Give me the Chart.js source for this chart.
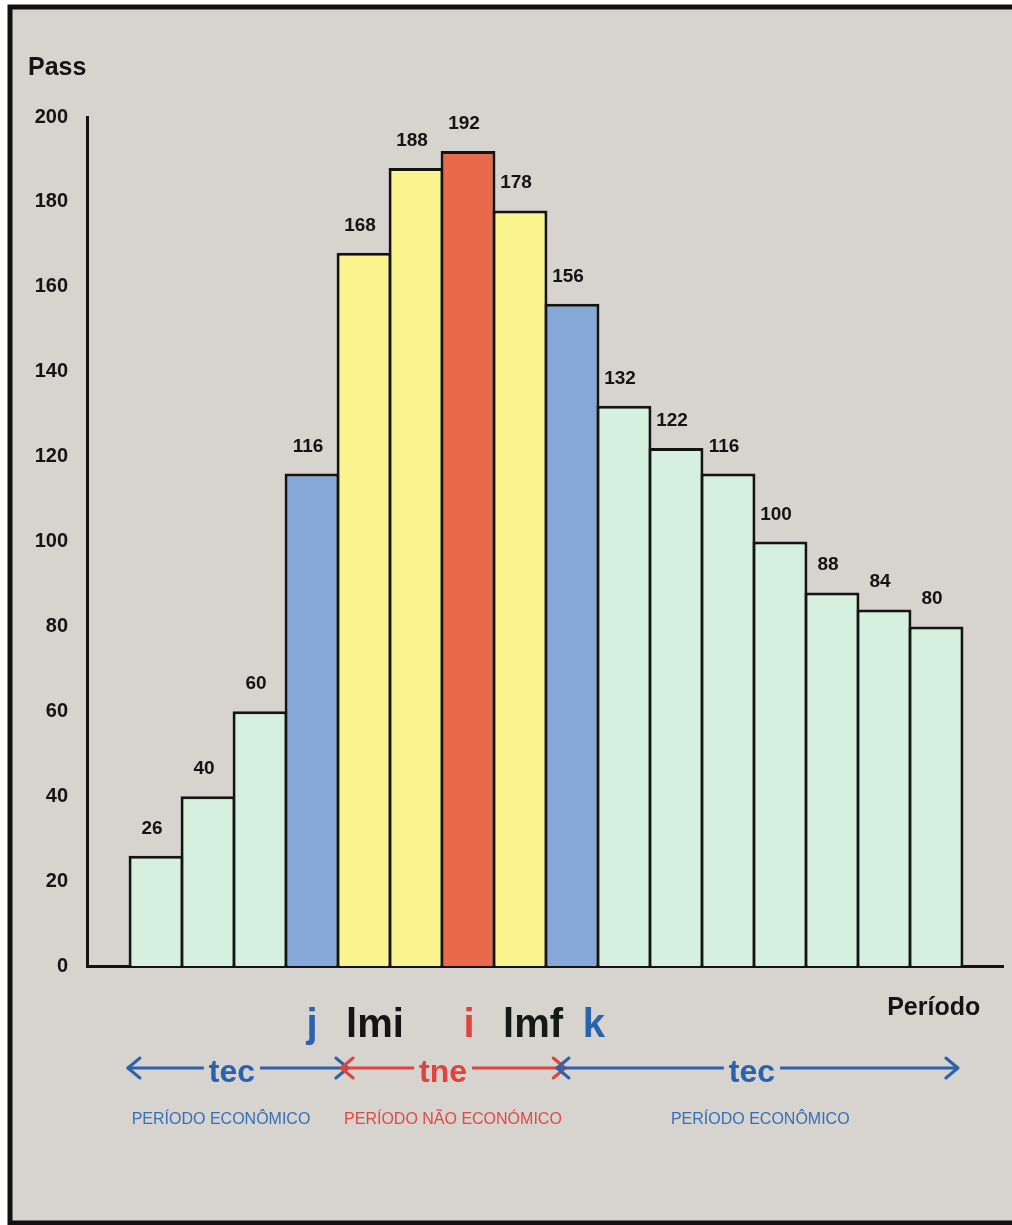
<!DOCTYPE html>
<html lang="pt">
<head>
<meta charset="utf-8">
<title>Pass por período</title>
<script src="https://cdn.jsdelivr.net/npm/chart.js@4/dist/chart.umd.min.js"></script>
<style>
  html, body { margin: 0; padding: 0; background: #ffffff; }
  canvas { display: block; }
</style>
</head>
<body>
<canvas id="chart" width="1012" height="1225"></canvas>
<script>
// Periods along the horizontal axis and the value reached in each one
const periods = [1, 2, 3, 4, 5, 6, 7, 8, 9, 10, 11, 12, 13, 14, 15, 16];
const passValues = [26, 40, 60, 116, 168, 188, 192, 178, 156, 132, 122, 116, 100, 88, 84, 80];
// Kind of each period: e = económico, b = limite (j / k), n = não económico, c = ponto crítico (i)
const periodKinds = ['e', 'e', 'e', 'b', 'n', 'n', 'c', 'n', 'b', 'e', 'e', 'e', 'e', 'e', 'e', 'e'];
const yTicks = [0, 20, 40, 60, 80, 100, 120, 140, 160, 180, 200];

const FONT = '"Liberation Sans", Arial, Helvetica, sans-serif';
const BG = '#d7d3cf';
const INK = '#141414';
const BLUE = '#2b62ae';
const RED = '#e0423c';
const kindColors = { e: '#d5f0df', b: '#86a8d8', n: '#fbf48e', c: '#e8694b' };

// Marker letters under the bars, placed on the period axis
const markers = [
  { text: 'j', at: 4.0, color: BLUE },
  { text: 'lmi', at: 5.21, color: INK },
  { text: 'i', at: 7.02, color: RED },
  { text: 'lmf', at: 8.25, color: '#141a16' },
  { text: 'k', at: 9.42, color: BLUE }
];
// Interval arrows: [from, to] on the period axis
const spans = [
  { from: 0.46, to: 4.69, label: 'tec', labelAt: 2.46, color: BLUE, note: 'PERÍODO ECONÔMICO', noteAt: 2.25 },
  { from: 4.56, to: 8.87, label: 'tne', labelAt: 6.52, color: RED, note: 'PERÍODO NÃO ECONÓMICO', noteAt: 6.71 },
  { from: 8.71, to: 16.42, label: 'tec', labelAt: 12.46, color: BLUE, note: 'PERÍODO ECONÔMICO', noteAt: 12.62 }
];

const framePlugin = {
  id: 'frame',
  beforeDraw(chart) {
    const c = chart.ctx;
    c.save();
    c.fillStyle = '#ffffff';
    c.fillRect(0, 0, chart.width, chart.height);
    c.fillStyle = BG;
    c.fillRect(10, 7, chart.width - 10, chart.height - 7);
    c.strokeStyle = '#111111';
    c.lineWidth = 5;
    c.beginPath();
    c.moveTo(chart.width + 5, 7);
    c.lineTo(10, 7);
    c.lineTo(10, chart.height - 2);
    c.lineTo(chart.width + 5, chart.height - 2);
    c.stroke();
    c.restore();
  }
};

const valueLabels = {
  id: 'valueLabels',
  afterDatasetsDraw(chart) {
    const c = chart.ctx;
    const meta = chart.getDatasetMeta(0);
    c.save();
    c.font = 'bold 19px ' + FONT;
    c.fillStyle = INK;
    c.textAlign = 'center';
    c.textBaseline = 'alphabetic';
    meta.data.forEach((bar, i) => {
      c.fillText(String(passValues[i]), bar.x - 4, bar.y - 22);
    });
    c.restore();
  }
};

function arrowHead(c, tipX, y, dir) {
  // dir = 1 points right, -1 points left
  c.beginPath();
  c.moveTo(tipX - dir * 12, y - 10);
  c.lineTo(tipX, y);
  c.lineTo(tipX - dir * 12, y + 10);
  c.stroke();
}

const annotations = {
  id: 'annotations',
  afterDraw(chart) {
    const c = chart.ctx;
    const x = chart.scales.x;
    c.save();

    // Axis captions
    c.fillStyle = INK;
    c.textBaseline = 'alphabetic';
    c.font = 'bold 25px ' + FONT;
    c.textAlign = 'left';
    c.fillText('Pass', 28, 75);
    c.textAlign = 'right';
    c.fillText('Período', x.getPixelForValue(16.85), 1015);

    // Marker letters
    c.font = 'bold 40px ' + FONT;
    c.textAlign = 'center';
    markers.forEach(m => {
      c.fillStyle = m.color;
      c.fillText(m.text, x.getPixelForValue(m.at), 1037);
    });

    // Interval arrows
    const ay = 1068;
    c.lineWidth = 3;
    c.lineCap = 'round';
    c.lineJoin = 'round';
    spans.forEach(s => {
      const x0 = x.getPixelForValue(s.from);
      const x1 = x.getPixelForValue(s.to);
      c.strokeStyle = s.color;
      c.beginPath();
      c.moveTo(x0, ay);
      c.lineTo(x1, ay);
      c.stroke();
      arrowHead(c, x0, ay, -1);
      arrowHead(c, x1, ay, 1);
    });
    spans.forEach(s => {
      const lx = x.getPixelForValue(s.labelAt);
      c.font = 'bold 32px ' + FONT;
      const w = c.measureText(s.label).width;
      c.fillStyle = BG;
      c.fillRect(lx - w / 2 - 5, ay - 4, w + 10, 8);
      c.fillStyle = s.color;
      c.textAlign = 'center';
      c.fillText(s.label, lx, 1082);

      c.font = '16px ' + FONT;
      c.fillStyle = s.color === RED ? '#e04a44' : '#3470b8';
      c.fillText(s.note, x.getPixelForValue(s.noteAt), 1124);
    });

    c.restore();
  }
};

new Chart(document.getElementById('chart'), {
  type: 'bar',
  data: {
    datasets: [{
      data: periods.map((p, i) => ({ x: p, y: passValues[i] })),
      backgroundColor: periodKinds.map(k => kindColors[k]),
      borderColor: INK,
      borderWidth: 3,
      borderSkipped: 'start',
      barPercentage: 1.055,
      categoryPercentage: 1
    }]
  },
  options: {
    responsive: false,
    animation: false,
    devicePixelRatio: 1,
    layout: { padding: { left: 20, top: 117, right: 9, bottom: 259 } },
    plugins: {
      legend: { display: false },
      tooltip: { enabled: false },
      title: { display: false }
    },
    scales: {
      x: {
        type: 'linear',
        offset: false,
        min: -0.327,
        max: 17.288,
        ticks: { display: false },
        grid: { display: false, drawTicks: false, offset: false },
        border: { display: true, color: INK, width: 3 },
        afterFit(s) { s.height = 0; }
      },
      y: {
        min: 0,
        max: 200,
        afterBuildTicks(s) { s.ticks = yTicks.map(v => ({ value: v })); },
        ticks: {
          color: INK,
          padding: 19,
          font: { family: FONT, weight: 'bold', size: 20 }
        },
        grid: { display: false, drawTicks: false },
        border: { display: true, color: INK, width: 3 },
        afterFit(s) { s.width = 67; }
      }
    }
  },
  plugins: [framePlugin, valueLabels, annotations]
});
</script>
</body>
</html>
